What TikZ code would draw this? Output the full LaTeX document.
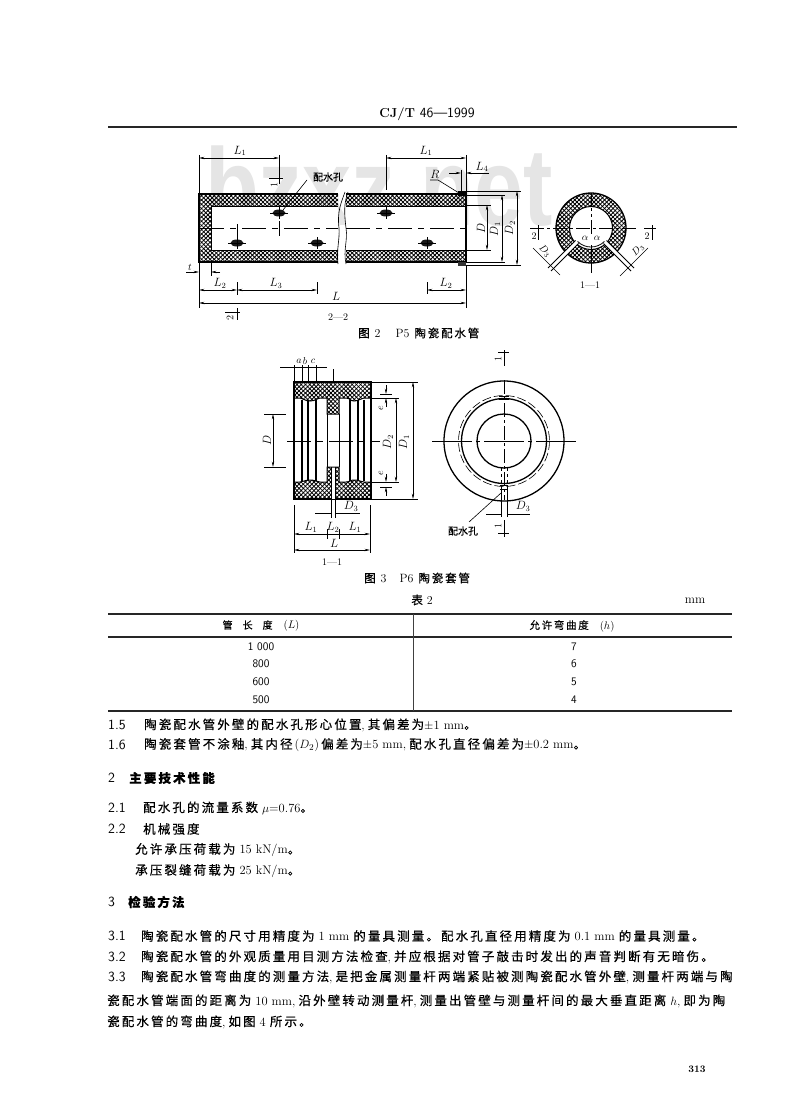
\documentclass[tikz,border=0pt]{standalone}
\usepackage{fontspec}
\usetikzlibrary{arrows.meta,patterns.meta}
\newfontfamily\cjk[LetterSpace=17,RawFeature={embolden=0.5}]{Noto Sans CJK SC}
\newfontfamily\cjkcap[LetterSpace=16,RawFeature={embolden=0.5}]{Noto Sans CJK SC}
\newfontfamily\cjklab[RawFeature={embolden=0.5}]{Noto Sans CJK SC}
\newfontfamily\wmfont{Liberation Sans}
\newcommand\zh[1]{{\cjk #1}}
\newcommand\zhb[1]{{\cjk\bfseries #1}}
\newcommand\cm{,\hspace{3pt}}
\newcommand\hd[1]{{\fontsize{14}{16}\selectfont\sffamily\mdseries #1}}
\newcommand\lab[1]{{\fontsize{10}{12}\selectfont\cjklab #1}}
\newcommand\capz[1]{{\fontsize{11.5}{13}\selectfont\cjkcap #1}}
\tikzset{
  txt/.style={anchor=west,inner sep=0pt,font=\fontsize{12.5}{14}\selectfont},
  ctr/.style={inner sep=0pt,font=\fontsize{12}{14}\selectfont},
  small/.style={inner sep=0pt,font=\fontsize{10}{12}\selectfont},
  obj/.style={line width=1pt,black},
  thinl/.style={line width=.6pt,black},
  dim/.style={line width=.55pt,black,{Stealth[length=5.5pt,width=2.4pt]}-{Stealth[length=5.5pt,width=2.4pt]}},
  tipr/.style={line width=.55pt,black,-{Stealth[length=5.5pt,width=2.4pt]}},
  leadr/.style={line width=.6pt,black},
  cline/.style={line width=.6pt,black,dash pattern=on 24pt off 6pt on 6pt off 6pt},
  hatchfill/.style={pattern={Lines[angle=45,distance=3pt,line width=.85pt]},pattern color=black,
    postaction={pattern={Lines[angle=-45,distance=3pt,line width=.85pt]},pattern color=black}},
  rule/.style={line width=1.3pt,black!85},
  hole/.style={fill=black!90,draw=none}
}
\begin{document}
\begin{tikzpicture}[x=1pt,y=-1pt]
\useasboundingbox (0,0) rectangle (800,1110);
\fill[white] (0,0) rectangle (800,1110);
% watermark
\node[anchor=base west,inner sep=0pt,xscale=.8,text=black!10,font=\fontsize{110}{120}\selectfont\wmfont\bfseries] (wm) at (205,225) {bzxz.net};
% header
\node[inner sep=0pt,font=\fontsize{13}{15}\selectfont\bfseries] (hdr) at (427,114) {CJ/T \hd{46—1999}};
\draw[rule] (108,127) -- (737,127);

% ---------- Figure 2 : pipe
\path[hatchfill] (199,194) rectangle (338,262);
\path[hatchfill] (346,194) rectangle (466,262);
\fill[white] (211,206) rectangle (338,250);
\fill[white] (346,206) rectangle (466,250);
\draw[obj,line width=1.3pt] (338,194) -- (199,194) -- (199,262) -- (338,262);
\draw[obj,line width=1.3pt] (346,194) -- (466,194) -- (466,262) -- (346,262);
\draw[obj] (338,206) -- (211,206) -- (211,250) -- (338,250);
\draw[obj] (346,206) -- (466,206);
\draw[obj] (346,250) -- (466,250);
\draw[thinl] (199,228) -- (211,228);
% break lines
\draw[thinl] (345,192) .. controls (341,203) and (337,212) .. (339,228) .. controls (340,240) and (336,250) .. (338,264);
\draw[thinl] (348,192) .. controls (344,203) and (344,212) .. (346,228) .. controls (348,240) and (343,250) .. (346,264);
% bell end
\fill[black] (458,191) rectangle (466,196);
\fill[black!80] (458,262) rectangle (466,266);
% centre line
\draw[cline] (200,228) -- (338,228);
\draw[cline] (346,228) -- (470,228);
% holes
\foreach \hx/\hy in {279/213,386/213,237/243,317/243,427/243}{
  \fill[hole] (\hx,\hy) ellipse[x radius=6.5,y radius=3.5];
  \draw[thinl] (\hx-9,\hy) -- (\hx+9,\hy) (\hx,\hy-6) -- (\hx,\hy+6);
}
\draw[thinl] (237,224) -- (237,237) (279,221) -- (279,236);
% L1 dims
\draw[thinl] (199,155) -- (199,194) (279,155) -- (279,184) (386,155) -- (386,190) (466,155) -- (466,194);
\draw[dim] (199,158) -- (279,158);
\draw[dim] (386,158) -- (466,158);
\node[ctr] (l1a) at (240,151) {$L_1$};
\node[ctr] (l1b) at (426,151) {$L_1$};
% section 1 mark on pipe
\draw[obj] (269,179) -- (283,179);
\node[small,rotate=90] (s1a) at (274,185) {1};
% hole label
\node[inner sep=0pt] (ph1) at (328,177) {\lab{配水孔}};
\draw[leadr] (307,180) -- (283,210);
% R and L4
\node[ctr] (rr) at (435,174) {$R$};
\draw[leadr] (430,180) -- (438,180) -- (459,193);
\node[ctr] (l4) at (482,167) {$L_4$};
\draw[thinl] (461,170) -- (461,192);
\draw[tipr] (449,173) -- (461,173);
\draw[tipr] (489,173) -- (466,173);
% D dims
\draw[thinl] (466,191) -- (521,191) (466,195) -- (505,195) (466,205) -- (491,205) (466,250) -- (491,250) (466,262) -- (505,262) (466,265) -- (521,265);
\draw[dim] (487,205) -- (487,250);
\draw[dim] (502,195) -- (502,262);
\draw[dim] (517,191) -- (517,265);
\node[ctr,rotate=90] (d0) at (481,228) {$D$};
\node[ctr,rotate=90] (d1) at (495,229) {$D_1$};
\node[ctr,rotate=90] (d2) at (510,228) {$D_2$};
% t
\node[small] (tt) at (190,267) {$t$};
\draw[thinl] (199,262) -- (199,308) (211,262) -- (211,276) (466,265) -- (466,308);
\draw[tipr] (186,272) -- (199,272);
\draw[tipr] (220,272) -- (211,272);
% L2 L3 L
\draw[thinl] (237,282) -- (237,295) (317,282) -- (317,294) (427,282) -- (427,294);
\draw[dim] (199,290) -- (237,290);
\draw[dim] (237,290) -- (317,290);
\draw[dim] (427,290) -- (466,290);
\draw[dim] (199,303) -- (466,303);
\node[ctr] (l2a) at (220,283) {$L_2$};
\node[ctr] (l3) at (276,283) {$L_3$};
\node[ctr] (l2b) at (446,283) {$L_2$};
\node[ctr] (ll) at (336,296) {$L$};
% section 2 mark
\draw[obj] (225,312) -- (240,312) (237,308) -- (237,320);
\node[small,rotate=90] (s2a) at (230,318) {2};
\node[small] (s22) at (338,317) {2—2};
\node[anchor=west,inner sep=0pt,font=\fontsize{12}{14}\selectfont] (cap2) at (358,333) {\capz{图}\hspace{5pt}2\hspace{15pt}P5\hspace{5pt}\capz{陶瓷配水管}};

% section 1-1 of pipe
\path[hatchfill,even odd rule] (591,228) circle[radius=35] (591,228) circle[radius=21.5];
\draw[obj,line width=1.3pt] (591,228) circle[radius=35];
\draw[obj] (591,228) circle[radius=21.5];
\draw[cline,dash pattern=on 14pt off 3pt on 3pt off 3pt] (530,228) -- (637,228);
\draw[thinl] (591,193) -- (591,207) (591,222) -- (591,234) (591,245) -- (591,273);
\draw[thinl,dashed] (591,208) -- (591,228);
% radial holes
\foreach \sg in {-1,1}{
  \fill[white] (591+\sg*15.5,228+12.5) -- (591+\sg*37.5,228+34.5) -- (591+\sg*34.5,228+37.5) -- (591+\sg*12.5,228+15.5) -- cycle;
  \draw[thinl,line width=.9pt] (591+\sg*15.5,228+12.5) -- (591+\sg*43,228+40) (591+\sg*12.5,228+15.5) -- (591+\sg*40,228+43);
}
\draw[thinl] (533,248) -- (560,275) (648,248) -- (620,276);
\node[small,rotate=-45] (d3a) at (545,251) {$D_3$};
\node[small,rotate=45] (d3b) at (638,250) {$D_3$};
\draw[thinl,line width=.8pt] (591,228) +(45:19) arc[start angle=45,end angle=135,radius=19];
\node[small] (aa) at (585,238) {$\alpha$};
\node[small] (ab) at (597,238) {$\alpha$};
\draw[obj] (530,228) -- (538,228) (538,225) -- (538,240) (644,228) -- (656,228) (652,225) -- (652,240);
\node[small] (s2l) at (534,236) {2};
\node[small] (s2r) at (647,236) {2};
\node[small] (s11a) at (590,285) {1—1};

% ---------- Figure 3 : sleeve
\path[hatchfill] (294,382) -- (371,382) -- (371,398) -- (364,398) .. controls (360,398) and (360,401) .. (354,401) .. controls (350,401) and (350,398) .. (346,398) -- (339,398) -- (339,414) -- (327,414) -- (327,398) -- (320,398) .. controls (316,398) and (316,401) .. (310,401) .. controls (304,401) and (304,398) .. (300,398) -- (294,398) -- cycle;
\path[hatchfill] (294,499) -- (331,499) -- (331,467) -- (327,467) -- (327,482) -- (320,482) .. controls (316,482) and (316,480) .. (310,480) .. controls (304,480) and (304,482) .. (300,482) -- (294,482) -- cycle;
\path[hatchfill] (371,499) -- (335,499) -- (335,467) -- (339,467) -- (339,482) -- (346,482) .. controls (350,482) and (350,480) .. (354,480) .. controls (360,480) and (360,482) .. (364,482) -- (371,482) -- cycle;
\draw[obj,line width=1.4pt] (294,382) -- (371,382) -- (371,499) -- (294,499) -- cycle;
\draw[obj] (371,398) -- (364,398) .. controls (360,398) and (360,401) .. (354,401) .. controls (350,401) and (350,398) .. (346,398) -- (339,398) -- (339,414) -- (327,414) -- (327,398) -- (320,398) .. controls (316,398) and (316,401) .. (310,401) .. controls (304,401) and (304,398) .. (300,398) -- (294,398);
\draw[obj] (294,482) -- (300,482) .. controls (304,482) and (304,480) .. (310,480) .. controls (316,480) and (316,482) .. (320,482) -- (327,482) -- (327,467) -- (339,467) -- (339,482) -- (346,482) .. controls (350,482) and (350,480) .. (354,480) .. controls (360,480) and (360,482) .. (364,482) -- (371,482);
\draw[obj] (331,467) -- (331,499) (335,467) -- (335,499);
\fill[white] (331.5,468) rectangle (334.5,498.5);
\foreach \vx in {302,308,316,350,358,364}{\draw[obj,line width=1.2pt] (\vx,399.5) -- (\vx,481);}
\draw[obj] (327,414) -- (327,467) (339,414) -- (339,467);
\draw[cline] (287,441) -- (380,441);
\draw[thinl] (333,369) -- (333,382);
% a b c
\draw[thinl] (294,365) -- (294,382) (302,365) -- (302,382) (308,365) -- (308,382) (316,365) -- (316,382);
\draw[thinl] (280,367) -- (327,367);
\node[small] (ma) at (299,361) {$a$};
\node[small] (mb) at (305,361) {$b$};
\node[small] (mc) at (313,361) {$c$};
% D left
\draw[thinl] (264,414) -- (286,414) (264,467) -- (286,467);
\draw[dim] (273,414) -- (273,467);
\node[ctr,rotate=90] (sd) at (267,440) {$D$};
% right dims
\draw[thinl] (371,382) -- (418,382) (371,499) -- (418,499) (371,398) -- (399,398) (371,482) -- (399,482);
\draw[dim] (413,382) -- (413,499);
\draw[dim] (396,398) -- (396,482);
\node[ctr,rotate=90] (sd1) at (404,442) {$D_1$};
\node[ctr,rotate=90] (sd2) at (388,442) {$D_2$};
\draw[thinl] (380,394) -- (392,394) (380,487) -- (392,487);
\draw[tipr] (386,385) -- (386,394);
\draw[tipr] (386,407) -- (386,398);
\draw[tipr] (386,474) -- (386,482);
\draw[tipr] (386,496) -- (386,487);
\node[small,rotate=90] (e1) at (381,408) {$e$};
\node[small,rotate=90] (e2) at (381,473) {$e$};
% bottom dims
\draw[thinl] (294,505) -- (294,553) (370,505) -- (370,553) (331,499) -- (331,518) (335,499) -- (335,518) (327,529) -- (327,539) (339,529) -- (339,539);
\draw[thinl] (315,513) -- (331,513) (335,513) -- (360,513);
\node[ctr] (sd3) at (351,506) {$D_3$};
\draw[dim] (294,534) -- (370,534);
\draw[dim] (294,550) -- (370,550);
\node[ctr] (sl1a) at (311,527) {$L_1$};
\node[ctr] (sl2) at (333,527) {$L_2$};
\node[ctr] (sl1b) at (355,527) {$L_1$};
\node[ctr] (sl) at (334,543) {$L$};
\node[small] (s11b) at (332,562) {1—1};
\node[anchor=west,inner sep=0pt,font=\fontsize{12}{14}\selectfont] (cap3) at (364,578) {\capz{图}\hspace{5pt}3\hspace{13pt}P6\hspace{5pt}\capz{陶瓷套管}};

% sleeve end view
\draw[obj,line width=1.3pt] (504,441) circle[radius=60];
\draw[obj,line width=1.3pt] (504,441) circle[radius=42.5];
\draw[obj,line width=1.3pt] (504,441) circle[radius=27];
\draw[thinl,dash pattern=on 9pt off 3pt] (504,441) circle[radius=45.5];
\draw[thinl,dash pattern=on 40pt off 4pt on 4pt off 4pt] (432,441) -- (576,441);
\draw[thinl,dash pattern=on 14pt off 3pt on 3pt off 3pt] (504,380) -- (504,500);
\draw[thinl] (499,396) -- (509,396) (499,399) -- (509,399);
\draw[thinl,dashed] (501,468) -- (501,485) (507,468) -- (507,485);
\draw[thinl] (501,485) -- (501,517) (507,485) -- (507,517);
\draw[thinl] (486,514) -- (501,514) (507,514) -- (530,514);
\draw[thinl] (500,485) -- (508,485) (500,489) -- (508,489);
\node[ctr] (ed3) at (523,506) {$D_3$};
\node[inner sep=0pt] (ph2) at (463,531) {\lab{配水孔}};
\draw[leadr] (469,522) -- (501,493);
\draw[obj] (504,350) -- (504,366) (498,352) -- (509,352) (504,520) -- (504,537) (498,533) -- (509,533);
\node[small,rotate=90] (es1) at (498,359) {1};
\node[small,rotate=90] (es2) at (498,526) {1};

% ---------- Table 2
\node[inner sep=0pt,font=\fontsize{12}{14}\selectfont] (t2) at (422,600) {\capz{表} 2};
\node[inner sep=0pt,font=\fontsize{12.5}{14}\selectfont] (mm) at (695,601) {mm};
\draw[rule] (108,614) -- (732,614);
\draw[rule] (108,637) -- (732,637);
\draw[rule] (108,711) -- (732,711);
\draw[line width=.7pt,black!75] (413,614) -- (413,711);
\node[inner sep=0pt,font=\fontsize{11}{13}\selectfont] (th1) at (261,626) {\lab{管\quad 长\quad 度}\quad ($L$)};
\node[inner sep=0pt,font=\fontsize{11}{13}\selectfont] (th2) at (572,626) {\capz{\fontsize{10.5}{12}\selectfont 允许弯曲度}\quad ($h$)};
\foreach \yy/\aa/\bb in {647/1 000/7,664/800/6,682/600/5,700/500/4}{
  \node[inner sep=0pt,font=\fontsize{11.5}{13}\selectfont\sffamily] at (261,\yy) {\aa};
  \node[inner sep=0pt,font=\fontsize{11.5}{13}\selectfont\sffamily] at (574,\yy) {\bb};
}

% ---------- Text
\node[txt] (n15) at (108,725) {\hd{1.5}};
\node[txt] (t15) at (144,725) {\zh{陶瓷配水管外壁的配水孔形心位置}\cm\zh{其偏差为}$\pm$1 mm\zh{。}};
\node[txt] (n16) at (108,745) {\hd{1.6}};
\node[txt] (t16) at (144,745) {\zh{陶瓷套管不涂釉}\cm\zh{其内径}\,($D_2$)\,\zh{偏差为}$\pm$5 mm\cm\zh{配水孔直径偏差为}$\pm$0.2 mm\zh{。}};
\node[txt] (n2) at (108,778) {\hd{2}};
\node[txt] (t2h) at (129,778) {\zhb{主要技术性能}};
\node[txt] (n21) at (108,808) {\hd{2.1}};
\node[txt] (t21) at (143,808) {\zh{配水孔的流量系数} $\mu$=0.76\zh{。}};
\node[txt] (n22) at (108,829) {\hd{2.2}};
\node[txt] (t22) at (143,829) {\zh{机械强度}};
\node[txt] (t22a) at (135,850) {\zh{允许承压荷载为} 15 kN/m\zh{。}};
\node[txt] (t22b) at (135,871) {\zh{承压裂缝荷载为} 25 kN/m\zh{。}};
\node[txt] (n3) at (108,902) {\hd{3}};
\node[txt] (t3h) at (128,902) {\zhb{检验方法}};
\node[txt] (n31) at (108,936) {\hd{3.1}};
\node[txt] (t31) at (141,936) {\zh{陶瓷配水管的尺寸用精度为} 1 mm \zh{的量具测量。配水孔直径用精度为} 0.1 mm \zh{的量具测量。}};
\node[txt] (n32) at (108,957) {\hd{3.2}};
\node[txt] (t32) at (141,957) {\zh{陶瓷配水管的外观质量用目测方法检查}\cm\zh{并应根据对管子敲击时发出的声音判断有无暗伤。}};
\node[txt] (n33) at (108,977) {\hd{3.3}};
\node[txt] (t33) at (141,977) {\zh{陶瓷配水管弯曲度的测量方法}\cm\zh{是把金属测量杆两端紧贴被测陶瓷配水管外壁}\cm\zh{测量杆两端与陶}};
\node[txt] (t33b) at (107,1001) {\zh{瓷配水管端面的距离为} 10 mm\cm\zh{沿外壁转动测量杆}\cm\zh{测量出管壁与测量杆间的最大垂直距离} $h$\cm\zh{即为陶}};
\node[txt] (t33c) at (107,1022) {\zh{瓷配水管的弯曲度}\cm\zh{如图} 4 \zh{所示。}};
\node[inner sep=0pt,font=\fontsize{10}{12}\selectfont\bfseries] (pg) at (697,1069) {313};
\end{tikzpicture}
\end{document}
